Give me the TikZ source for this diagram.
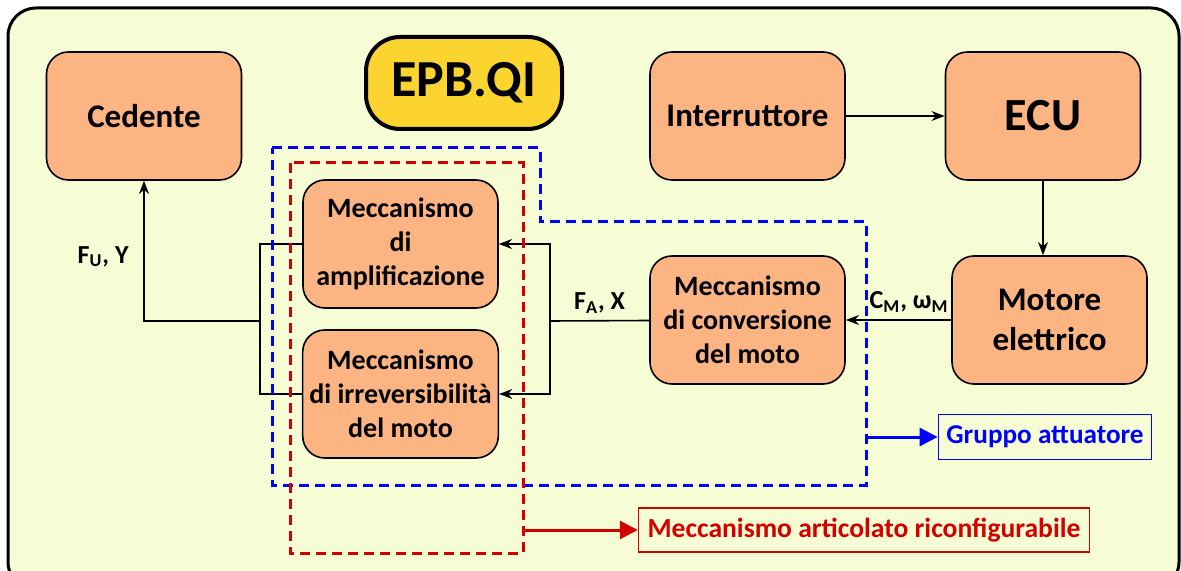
\documentclass[tikz,border=0pt]{standalone}
\usepackage{fontspec}
\setmainfont{Carlito}
\usepackage{tikz}
\usetikzlibrary{arrows.meta}
\usetikzlibrary{positioning}

\definecolor{bgyel}{RGB}{246,253,212}
\definecolor{boxor}{RGB}{252,180,130}
\definecolor{titleyel}{RGB}{252,212,48}
\definecolor{redd}{RGB}{212,0,0}

\begin{document}
\begin{tikzpicture}[x=0.5pt, y=-0.5pt]
            \tikzset{block/.style={draw, rounded corners=11pt, fill=boxor, thick,
                        minimum width=97.5pt, minimum height=64pt, align=center,
                        font=\bfseries\fontsize{14}{17}\selectfont},
                    bigblock/.style={block, font=\bfseries\fontsize{16.5}{20}\selectfont},
                    >={Stealth[black]},
                    sig/.style={font=\bfseries\fontsize{13}{15}\selectfont},
                    every edge/.style={draw=black, thick}}
            \useasboundingbox (0,0) rectangle (1181,571);
            \begin{scope}
            \clip (0,0) rectangle (1181,571);
            \draw[line width=1.5pt, fill=bgyel, rounded corners=14pt] (8,8) rectangle (1179,590);
            \end{scope}
            % title
            \node[draw, line width=2pt, fill=titleyel, rounded corners=17pt,
                  minimum width=98pt, minimum height=46pt,
                  font=\bfseries\fontsize{26}{30}\selectfont] (epb) at (464,83) {EPB.QI};
            % blocks
            \node[bigblock] (ced) at (144,116) {Cedente};
            \node[bigblock] (intr) at (747.5,116) {Interruttore};
            \node[block, font=\bfseries\fontsize{23}{26}\selectfont] (ecu) at (1043,116) {ECU};
            \node[block] (amp) at (400.5,244) {Meccanismo\\di\\amplificazione};
            \node[block] (irr) at (400.5,394) {Meccanismo\\di irreversibilità\\del moto};
            \node[block] (conv) at (747.5,320) {Meccanismo\\di conversione\\del moto};
            \node[bigblock] (mot) at (1049.5,320) {Motore\\elettrico};
            % connectors
            \path [->] (intr) edge (ecu);
            \path [->] (ecu) edge (ecu |- mot.north);
            \path [->] (mot) edge node[sig, above, pos=0.4] {C\textsubscript{M}, ω\textsubscript{M}} (conv);
            \coordinate (sr) at (550,321);
            \coordinate (sl) at (260,321);
            \draw[thick] (conv) -- node[sig, above] {F\textsubscript{A}, X} (sr);
            \draw[thick, ->] (sr) |- (amp);
            \draw[thick, ->] (sr) |- (irr);
            \draw[thick] (amp) -| (sl);
            \draw[thick] (irr) -| (sl);
            \draw[thick, ->] (sl) -| node[sig, pos=0.73, left=4pt] {F\textsubscript{U}, Y} (ced);
            % groups
            \draw[blue, line width=1.5pt, dash pattern=on 5pt off 3pt]
                (272,148) -- (540,148) -- (540,222) -- (866,222) -- (866,485) -- (272,485) -- cycle;
            \draw[redd, line width=1.5pt, dash pattern=on 5pt off 3pt]
                (290,163) rectangle (523,553);
            \node[draw=blue, thick, text=blue, inner xsep=4pt, minimum height=22.5pt,
                  font=\bfseries\fontsize{13.6}{15}\selectfont] (grp) at (1045,437) {Gruppo attuatore};
            \node[draw=redd, thick, text=redd, inner xsep=4.5pt, minimum height=22pt,
                  font=\bfseries\fontsize{13.8}{15}\selectfont] (mar) at (864,530) {Meccanismo articolato riconfigurabile};
            \coordinate (gb) at (866,437);
            \coordinate (rb) at (523,530);
            \draw[blue, line width=1.5pt, -{Triangle[length=9pt, width=9pt]}] (gb) -- (grp);
            \draw[redd, line width=1.5pt, -{Triangle[length=9pt, width=9pt]}] (rb) -- (mar);
        \end{tikzpicture}
\end{document}
